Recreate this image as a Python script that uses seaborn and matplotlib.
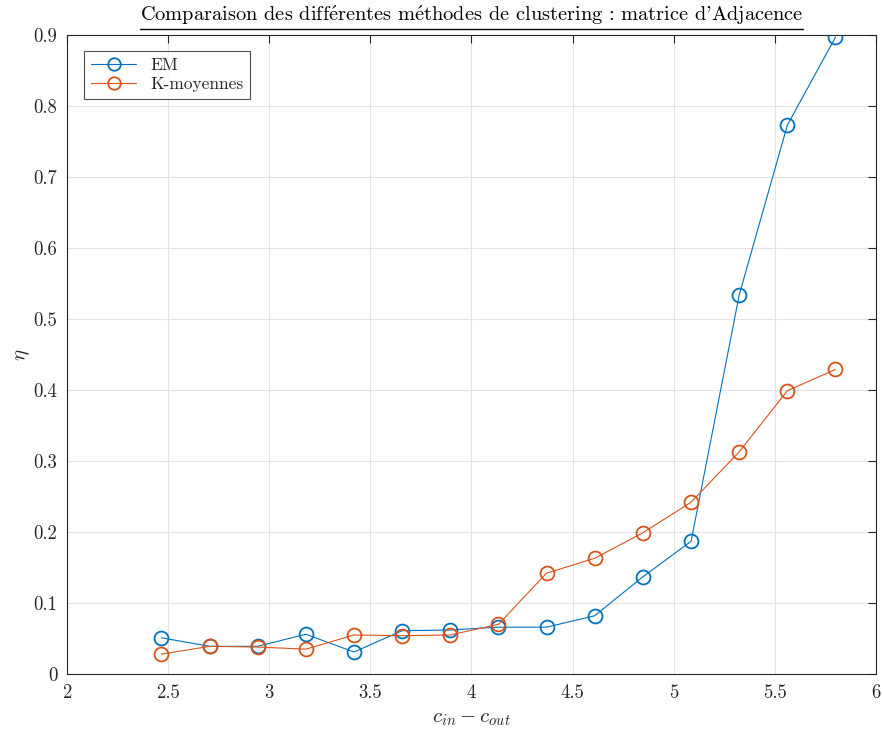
import numpy as np
import pandas as pd
import matplotlib
matplotlib.use("Agg")
import matplotlib.pyplot as plt
from matplotlib.lines import Line2D
import seaborn as sns

# values
c_diff = [2.467, 2.705, 2.943, 3.181, 3.419, 3.657, 3.895, 4.133,
          4.371, 4.609, 4.848, 5.086, 5.324, 5.562, 5.800]
eta_em = [0.051, 0.039, 0.039, 0.056, 0.031, 0.061, 0.062, 0.066,
          0.066, 0.082, 0.137, 0.187, 0.534, 0.773, 0.897]
eta_kmeans = [0.028, 0.039, 0.038, 0.035, 0.055, 0.054, 0.055, 0.070,
              0.142, 0.163, 0.199, 0.242, 0.313, 0.399, 0.429]
methods = ["EM", "K-moyennes"]
x_ticks = [2, 2.5, 3, 3.5, 4, 4.5, 5, 5.5, 6]
y_ticks = [0, 0.1, 0.2, 0.3, 0.4, 0.5, 0.6, 0.7, 0.8, 0.9]

df = pd.DataFrame({
    "x": c_diff * 2,
    "eta": eta_em + eta_kmeans,
    "method": [methods[0]] * len(c_diff) + [methods[1]] * len(c_diff),
})

sns.set_theme(style="white")
plt.rcParams["font.family"] = ["cmr10", "DejaVu Serif"]
plt.rcParams["mathtext.fontset"] = "cm"
plt.rcParams["axes.formatter.use_mathtext"] = True

palette = {"EM": "#0072BD", "K-moyennes": "#D95319"}
edge = "#262626"

fig = plt.figure(figsize=(8.83, 7.32), dpi=100)
ax = fig.add_axes([0.0759, 0.0792, 0.9161, 0.8730])

sns.lineplot(data=df, x="x", y="eta", hue="method", palette=palette,
             marker="o", markersize=10, markerfacecolor="none",
             markeredgewidth=1.3, linewidth=0.8, ax=ax, legend=False)
for ln, m in zip(ax.get_lines(), methods):
    ln.set_markeredgecolor(palette[m])

ax.set_xlim(2, 6)
ax.set_ylim(0, 0.9)
ax.set_xticks(x_ticks)
ax.set_xticklabels([f"{t:g}" for t in x_ticks])
ax.set_yticks(y_ticks)
ax.set_yticklabels([f"{t:g}" for t in y_ticks])
ax.grid(True, color="#e3e3e3", linewidth=0.8)
ax.set_axisbelow(True)
for s in ax.spines.values():
    s.set_visible(True)
    s.set_color(edge)
    s.set_linewidth(0.8)
ax.tick_params(direction="in", length=6, width=0.8, colors=edge,
               labelsize=13.5, top=True, right=True, labelcolor=edge, pad=7)

ax.set_xlabel(r"$c_{in} - c_{out}$", fontsize=15, color=edge, labelpad=6)
ax.set_ylabel(r"$\eta$", fontsize=15, color=edge, labelpad=1)
e_acute = r"$\acute{\mathrm{e}}$"
title = ax.set_title(f"Comparaison des diff{e_acute}rentes m{e_acute}thodes "
                     "de clustering : matrice d'Adjacence",
                     fontsize=14.7, color="black", pad=10)

handles = [Line2D([], [], color=palette[m], marker="o", markersize=9,
                  markerfacecolor="none", markeredgewidth=1.3, linewidth=0.8)
           for m in methods]
leg = ax.legend(handles, methods, loc="upper left", fontsize=12.5,
                frameon=True, fancybox=False, edgecolor=edge,
                bbox_to_anchor=(0.021, 0.975), borderaxespad=0,
                handlelength=2.6, labelspacing=0.2, borderpad=0.4)
leg.get_frame().set_linewidth(0.8)

# underline the title
fig.canvas.draw()
bb = title.get_window_extent().transformed(fig.transFigure.inverted())
fig.add_artist(Line2D([bb.x0, bb.x1], [bb.y0 - 0.002, bb.y0 - 0.002],
                      transform=fig.transFigure, color="black", linewidth=1.0))

fig.savefig("out.png", dpi=100)
